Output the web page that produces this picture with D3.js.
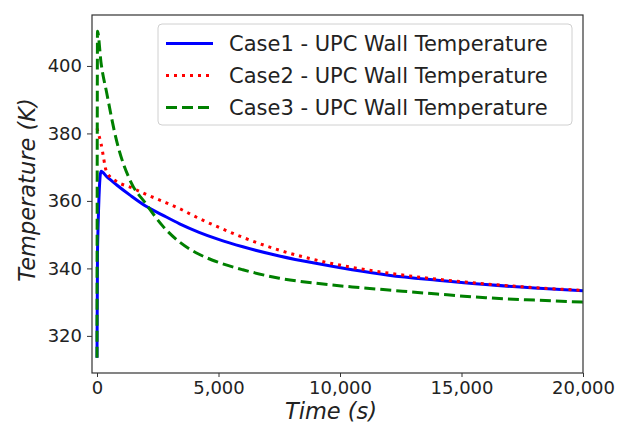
<!DOCTYPE html>
<html>
<head>
<meta charset="utf-8">
<script src="https://cdn.jsdelivr.net/npm/d3@7"></script>
<style>
  body { margin: 0; background: #fff; }
  text { font-family: "DejaVu Sans", sans-serif; fill: #222; }
</style>
</head>
<body>
<script>
// time in seconds, common to all three cases
var timeSec = [0, 20, 165, 400, 800, 1400, 2000, 2700, 3400, 4200, 5000, 6000, 7500, 9000, 10500, 12000, 14000, 16000, 18000, 20000];
// wall temperature (K)
var case1Temp = [313.5, 345, 368.8, 367.2, 364.8, 361.5, 358.5, 355.8, 353.2, 350.7, 348.6, 346.4, 343.7, 341.5, 339.6, 338.0, 336.5, 335.2, 334.2, 333.4];
var case2Temp = [381.5, 381, 377, 368.5, 365.8, 364.0, 362.0, 359.9, 357.7, 354.8, 352.2, 349.2, 345.4, 342.5, 340.3, 338.6, 336.8, 335.4, 334.3, 333.5];
var case3Temp = [313.5, 410.3, 401, 392, 378, 365.5, 359.3, 352.6, 347.8, 344.2, 341.8, 339.6, 337.1, 335.6, 334.5, 333.6, 332.4, 331.3, 330.6, 330.0];
var seriesNames = ["Case1 - UPC Wall Temperature", "Case2 - UPC Wall Temperature", "Case3 - UPC Wall Temperature"];
var xTicks = [0, 5000, 10000, 15000, 20000];
var yTicks = [320, 340, 360, 380, 400];

var WIDTH = 620, HEIGHT = 430;
var MARGIN = { LEFT: 92, RIGHT: 37, TOP: 15, BOTTOM: 57 };

var series = [
    { name: seriesNames[0], values: case1Temp, color: "#0000ff", dash: null },
    { name: seriesNames[1], values: case2Temp, color: "#ff0000", dash: "3,5" },
    { name: seriesNames[2], values: case3Temp, color: "#008000", dash: "11,5" }
];

var svg = d3.select("body").append("svg").attr("width", WIDTH).attr("height", HEIGHT);

const xScale = d3.scaleLinear()
    .domain([-206, 20000])
    .range([MARGIN.LEFT, WIDTH - MARGIN.RIGHT]);
const yScale = d3.scaleLinear()
    .domain([309.0, 415.1])
    .range([HEIGHT - MARGIN.BOTTOM, MARGIN.TOP]);

var fmt = d3.format(",");

// axes
var axisBottom = d3.axisBottom(xScale).tickValues(xTicks).tickFormat(fmt).tickSize(4).tickPadding(4);
svg.append("g")
    .attr("class", "xaxis")
    .attr("transform", "translate(0," + (HEIGHT - MARGIN.BOTTOM) + ")")
    .call(axisBottom);
var axisLeft = d3.axisLeft(yScale).tickValues(yTicks).tickSize(5).tickPadding(5);
svg.append("g")
    .attr("class", "yaxis")
    .attr("transform", "translate(" + MARGIN.LEFT + ",0)")
    .call(axisLeft);
svg.selectAll(".xaxis text, .yaxis text")
    .style("font-family", "DejaVu Sans")
    .style("font-size", "18px")
    .attr("fill", "#222");
svg.selectAll(".domain").remove();
svg.selectAll(".tick line").attr("stroke", "#333");

// lines
var line = d3.line()
    .x(function (d, i) { return xScale(timeSec[i]); })
    .y(function (d) { return yScale(d); })
    .curve(d3.curveMonotoneX);

svg.append("defs").append("clipPath").attr("id", "clip")
    .append("rect")
    .attr("x", MARGIN.LEFT).attr("y", MARGIN.TOP)
    .attr("width", WIDTH - MARGIN.LEFT - MARGIN.RIGHT)
    .attr("height", HEIGHT - MARGIN.TOP - MARGIN.BOTTOM);

svg.append("g").attr("clip-path", "url(#clip)")
    .selectAll("path")
    .data(series)
    .enter()
    .append("path")
    .attr("d", function (d) { return line(d.values); })
    .attr("fill", "none")
    .attr("stroke", function (d) { return d.color; })
    .attr("stroke-width", 3)
    .attr("stroke-dasharray", function (d) { return d.dash; });

// frame
svg.append("rect")
    .attr("x", MARGIN.LEFT).attr("y", MARGIN.TOP)
    .attr("width", WIDTH - MARGIN.LEFT - MARGIN.RIGHT)
    .attr("height", HEIGHT - MARGIN.TOP - MARGIN.BOTTOM)
    .attr("fill", "none")
    .attr("stroke", "#333")
    .attr("stroke-width", 1.2);

// axis labels
svg.append("text")
    .attr("x", 331).attr("y", 419)
    .attr("text-anchor", "middle")
    .style("font-size", "22.5px")
    .style("font-style", "italic")
    .text("Time (s)");
svg.append("text")
    .attr("transform", "translate(35,190) rotate(-90)")
    .attr("text-anchor", "middle")
    .style("font-size", "22.5px")
    .style("font-style", "italic")
    .text("Temperature (K)");

// legend
var legend = svg.append("g").attr("class", "legend");
legend.append("rect")
    .attr("x", 158).attr("y", 24)
    .attr("width", 414).attr("height", 101)
    .attr("rx", 4)
    .attr("fill", "#fff").attr("fill-opacity", 0.8)
    .attr("stroke", "#d0d0d0");
var items = legend.selectAll(".item")
    .data(series)
    .enter()
    .append("g")
    .attr("class", "item")
    .attr("transform", function (d, i) { return "translate(0," + (43.5 + i * 32) + ")"; });
items.append("line")
    .attr("x1", 166).attr("x2", 213)
    .attr("stroke", function (d) { return d.color; })
    .attr("stroke-width", 3)
    .attr("stroke-dasharray", function (d) { return d.dash; });
items.append("text")
    .attr("x", 229).attr("y", 7.5)
    .style("font-size", "21px")
    .text(function (d) { return d.name; });
</script>
</body>
</html>
